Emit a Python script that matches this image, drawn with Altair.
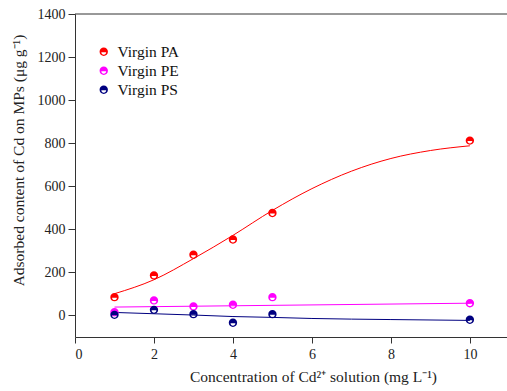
import altair as alt
import pandas as pd

series = ["Virgin PA", "Virgin PE", "Virgin PS"]
colors = ["#ff0000", "#ff00ff", "#000080"]

x_obs = [1, 2, 3, 4, 5, 10]
pa_obs = [85, 186, 282, 353, 476, 812]
pe_obs = [15, 70, 42, 50, 85, 57]
ps_obs = [3, 26, 6, -34, 6, -20]

pa_fit_x = [1, 2, 3, 4, 5, 6, 7, 8, 9, 10]
pa_fit_y = [101, 166, 264, 372, 488, 589, 670, 729, 766, 788]
pe_fit_x = [1, 10]
pe_fit_y = [39, 57]
ps_fit_x = [1, 2, 3, 4, 5, 6, 8, 10]
ps_fit_y = [14, 8, 2, -5, -9, -14, -19, -23]

x_ticks = [0, 2, 4, 6, 8, 10]
y_ticks = [0, 200, 400, 600, 800, 1000, 1200, 1400]

obs = pd.DataFrame({
    "x": x_obs * 3,
    "y": pa_obs + pe_obs + ps_obs,
    "s": [series[0]] * 6 + [series[1]] * 6 + [series[2]] * 6,
})
fit = pd.DataFrame({
    "x": pa_fit_x + pe_fit_x + ps_fit_x,
    "y": pa_fit_y + pe_fit_y + ps_fit_y,
    "s": [series[0]] * len(pa_fit_x) + [series[1]] * len(pe_fit_x) + [series[2]] * len(ps_fit_x),
})
top = pd.DataFrame({"y": [1400]})

FONT = "Liberation Serif"
SHAPE = ("M -1 0 A 1 1 0 1 1 1 0 A 1 1 0 1 1 -1 0 Z "
         "M -0.58 0.12 A 0.58 0.58 0 0 0 0.58 0.12 Z")

xs = alt.Scale(domain=[0, 10.94], nice=False, zero=False)
ys = alt.Scale(domain=[-100, 1400], nice=False, zero=False)

xax = alt.Axis(values=x_ticks, format="d", title="Concentration of  Cd²⁺ solution (mg L⁻¹)",
               titleX=238, titleY=44, titleBaseline="alphabetic", titleAlign="center",
               tickSize=6, labelPadding=4)
yax = alt.Axis(values=y_ticks, format="d", title="Adsorbed content of Cd on MPs (μg g⁻¹)",
               titleX=-57, titleY=146, titleBaseline="middle", titleAlign="center",
               titleAngle=-90, tickSize=7, labelPadding=3)

color = alt.Color("s:N", scale=alt.Scale(domain=series, range=colors),
                  legend=alt.Legend(title=None, orient="none", legendX=21, legendY=30,
                                    symbolType=SHAPE, symbolSize=70, symbolStrokeWidth=0,
                                    labelFont=FONT, labelFontSize=15.5, labelColor="#111",
                                    labelOffset=6, rowPadding=2, padding=0))

rule = alt.Chart(top).mark_rule(color="#333", strokeWidth=1).encode(
    y=alt.Y("y:Q", scale=ys, axis=yax))

lines = alt.Chart(fit).mark_line(strokeWidth=1, interpolate="monotone").encode(
    x=alt.X("x:Q", scale=xs, axis=xax),
    y=alt.Y("y:Q", scale=ys, axis=yax),
    color=color,
    detail="s:N",
)

points = alt.Chart(obs).mark_point(shape=SHAPE, filled=True, size=70, opacity=1).encode(
    x=alt.X("x:Q", scale=xs, axis=xax),
    y=alt.Y("y:Q", scale=ys, axis=yax),
    color=color,
)

chart = alt.layer(rule, lines, points).properties(
    width=432, height=323,
    autosize="none",
    padding={"left": 75, "top": 14, "right": 0, "bottom": 54},
).configure_view(stroke=None).configure_axis(
    grid=False, domainColor="#333", tickColor="#333", labelFont=FONT, titleFont=FONT,
    labelFontSize=14, titleFontSize=15.5, labelColor="#222", titleColor="#222",
    titleFontWeight="normal", domainWidth=1, tickWidth=1,
)

chart.save("out.html", embed_options={"renderer": "svg", "actions": False})
